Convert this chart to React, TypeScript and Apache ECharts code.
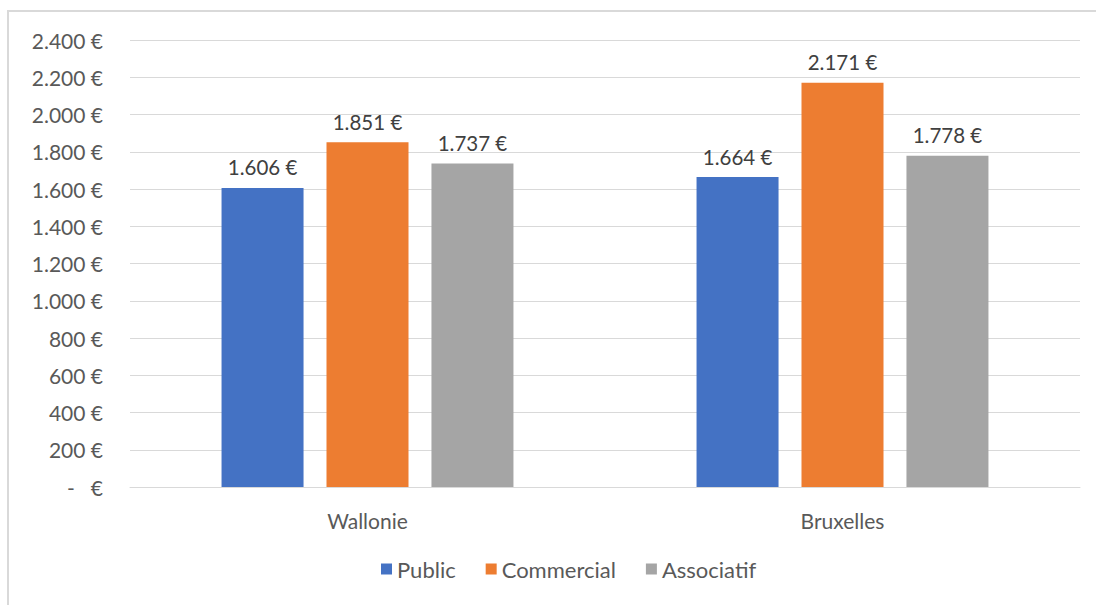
import React, { useEffect, useRef } from "react";
import * as echarts from "echarts";

const categories = ["Wallonie", "Bruxelles"];
const seriesNames = ["Public", "Commercial", "Associatif"];
const publicValues = [1606, 1664];
const commercialValues = [1851, 2171];
const associatifValues = [1737, 1778];
const colors = ["#4472C4", "#ED7D31", "#A5A5A5"];

const fmt = (v: number) => {
  if (v === 0) return "-   €";
  const s = Math.round(v).toString();
  return s.replace(/\B(?=(\d{3})+(?!\d))/g, ".") + " €";
};

const FONT = "Lato, 'Open Sans', sans-serif";

export default function App() {
  const ref = useRef<HTMLDivElement>(null);
  useEffect(() => {
    const chart = echarts.init(ref.current!, null, { renderer: "svg" });
    const data = [publicValues, commercialValues, associatifValues];
    chart.setOption({
      animation: false,
      backgroundColor: "#ffffff",
      textStyle: { fontFamily: FONT },
      graphic: [
        {
          type: "rect",
          shape: { x: 8, y: 11, width: 1100, height: 600 },
          style: { fill: "none", stroke: "#d9d9d9", lineWidth: 2 },
          silent: true,
        },
      ],
      grid: { left: 130, right: 16, top: 40, bottom: 118, containLabel: false },
      legend: {
        bottom: 20,
        left: 376,
        itemWidth: 11,
        itemHeight: 11,
        itemGap: 30,
        icon: "rect",
        textStyle: { fontSize: 22, color: "#595959", fontFamily: FONT },
        data: seriesNames,
      },
      xAxis: {
        type: "category",
        data: categories,
        axisLine: { lineStyle: { color: "#d9d9d9", width: 1 } },
        axisTick: { show: false },
        axisLabel: { fontSize: 21, color: "#595959", margin: 23, fontFamily: FONT },
      },
      yAxis: {
        type: "value",
        min: 0,
        max: 2400,
        interval: 200,
        axisLine: { show: false },
        axisTick: { show: false },
        splitLine: { lineStyle: { color: "#d9d9d9", width: 1 } },
        axisLabel: {
          fontSize: 21,
          color: "#595959",
          margin: 27,
          fontFamily: FONT,
          formatter: (v: number) => fmt(v),
        },
      },
      series: seriesNames.map((name, i) => ({
        name,
        type: "bar",
        data: data[i],
        barWidth: 82,
        barGap: "28%",
        itemStyle: { color: colors[i] },
        label: {
          show: true,
          position: "top",
          distance: 10,
          fontSize: 20.5,
          color: "#404040",
          fontFamily: FONT,
          formatter: (p: any) => fmt(p.value),
        },
      })),
    });
    return () => chart.dispose();
  }, []);
  return (
    <div
      ref={ref}
      style={{ position: "absolute", left: 0, top: 0, width: 1096, height: 605 }}
    />
  );
}
